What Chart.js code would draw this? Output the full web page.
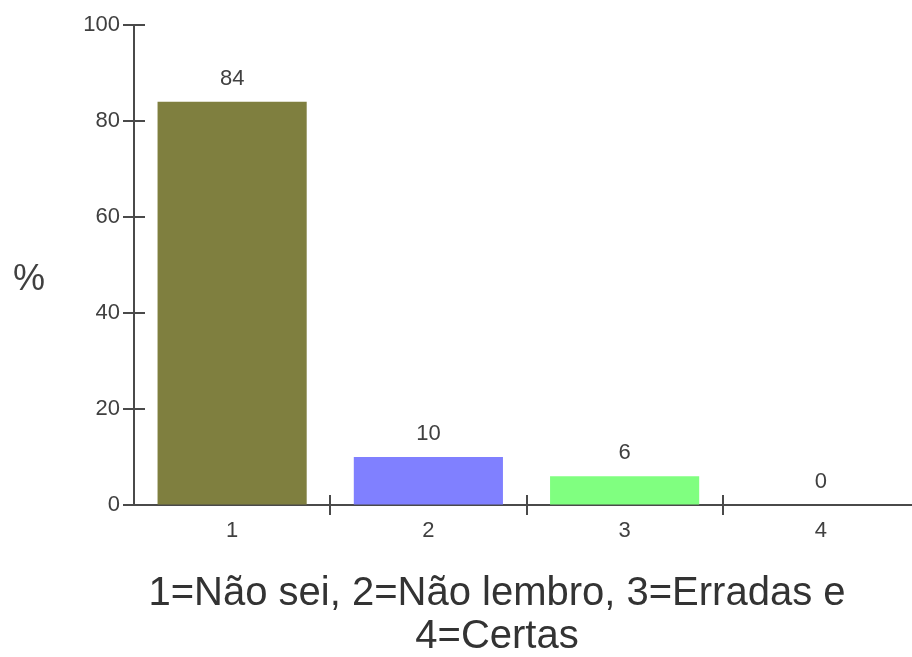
<!DOCTYPE html>
<html>
<head>
<meta charset="utf-8">
<style>
  html, body { margin: 0; padding: 0; background: #ffffff; overflow: hidden; }
  #wrap { width: 912px; height: 657px; overflow: hidden; }
</style>
<script src="https://cdn.jsdelivr.net/npm/chart.js@4/dist/chart.umd.min.js"></script>
</head>
<body>
<div id="wrap"><canvas id="chart" width="920" height="657" style="width:920px;height:657px"></canvas></div>
<script>
// Answer categories and percentage of responses
const categories = ['1', '2', '3', '4'];
const percentages = [84, 10, 6, 0];
const barColors = ['#7f7f3f', '#8080ff', '#80ff80', '#ff8080'];
const yTicks = [0, 20, 40, 60, 80, 100];
const yAxisLabel = '%';
const xAxisTitle = ['1=Não sei, 2=Não lembro, 3=Erradas e', '4=Certas'];

const FONT = '"Liberation Sans", Arial, sans-serif';
const INK = '#404040';
const AXIS = '#4a4a4a';

// Tick marks crossing the axes, value labels and free text
const decorations = {
  id: 'decorations',
  afterDraw(chart) {
    const ctx = chart.ctx;
    const x = chart.scales.x, y = chart.scales.y;
    const area = chart.chartArea;
    ctx.save();
    ctx.strokeStyle = AXIS;
    ctx.lineWidth = 2;
    // y ticks
    yTicks.forEach(v => {
      const py = Math.round(y.getPixelForValue(v));
      ctx.beginPath();
      ctx.moveTo(area.left - 11, py);
      ctx.lineTo(area.left + 11, py);
      ctx.stroke();
    });
    // x ticks at category boundaries
    for (let i = 1; i < categories.length; i++) {
      const px = Math.round((x.getPixelForValue(i - 1) + x.getPixelForValue(i)) / 2);
      ctx.beginPath();
      ctx.moveTo(px, area.bottom - 10);
      ctx.lineTo(px, area.bottom + 10);
      ctx.stroke();
    }
    // value labels above bars
    ctx.fillStyle = INK;
    ctx.font = '22px ' + FONT;
    ctx.textAlign = 'center';
    ctx.textBaseline = 'alphabetic';
    const meta = chart.getDatasetMeta(0);
    meta.data.forEach((bar, i) => {
      const top = y.getPixelForValue(percentages[i]);
      ctx.fillText(String(percentages[i]), bar.x, top - 17);
    });
    // y-axis label
    ctx.font = '36px ' + FONT;
    ctx.fillText(yAxisLabel, 29, 290);
    // x-axis title
    ctx.fillStyle = '#333333';
    ctx.font = '40px ' + FONT;
    xAxisTitle.forEach((line, i) => {
      ctx.fillText(line, 497, 605 + i * 43);
    });
    ctx.restore();
  }
};

new Chart(document.getElementById('chart'), {
  type: 'bar',
  data: {
    labels: categories,
    datasets: [{
      data: percentages,
      backgroundColor: barColors,
      borderWidth: 0,
      categoryPercentage: 1,
      barPercentage: 0.76
    }]
  },
  options: {
    responsive: false,
    animation: false,
    devicePixelRatio: 1,
    layout: { padding: { top: 25, right: 1, left: 0, bottom: 0 } },
    plugins: { legend: { display: false }, tooltip: { enabled: false } },
    scales: {
      x: {
        offset: true,
        grid: { display: true, drawOnChartArea: false, drawTicks: true, tickLength: 10, color: 'rgba(0,0,0,0)' },
        border: { display: true, color: AXIS, width: 2 },
        ticks: { color: INK, font: { family: FONT, size: 22 }, padding: 3, maxRotation: 0 },
        afterFit(scale) { scale.height = 152; }
      },
      y: {
        min: 0,
        max: 100,
        grid: { display: true, drawOnChartArea: false, drawTicks: true, tickLength: 11, color: 'rgba(0,0,0,0)' },
        border: { display: true, color: AXIS, width: 2 },
        ticks: { stepSize: 20, color: INK, font: { family: FONT, size: 22 }, padding: 3 },
        afterFit(scale) { scale.width = 134; }
      }
    }
  },
  plugins: [decorations]
});
</script>
</body>
</html>
